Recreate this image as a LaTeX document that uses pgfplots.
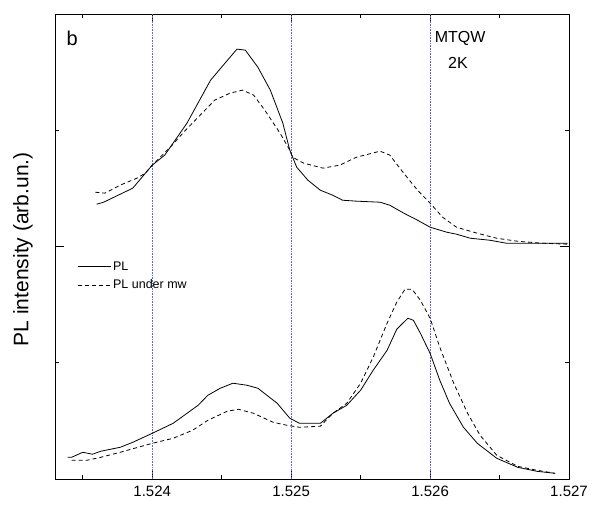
\documentclass[border=0pt]{standalone}
\usepackage{fontspec}
\setmainfont{Liberation Sans}
\usepackage{pgfplots}
\pgfplotsset{compat=1.18}
\usetikzlibrary{calc}
\definecolor{gridblue}{rgb}{0.38,0.38,0.88}

\begin{document}
\begin{tikzpicture}
\begin{axis}[
    scale only axis,
    width=514pt, height=465pt,
    xmin=1.5233, xmax=1.527,
    ymin=0, ymax=4,
    xtick={1.524,1.525,1.526,1.527},
    xticklabels={1.524,1.525,1.526,1.527},
    minor xtick={1.5235,1.5245,1.5255,1.5265},
    ytick={2}, yticklabels={},
    minor ytick={1,3},
    tick align=inside,
    major tick length=9pt, minor tick length=4pt,
    every tick/.style={black, line width=0.8pt},
    axis line style={line width=0.9pt},
    xticklabel style={font=\fontsize{15}{17}\selectfont, yshift=-3pt},
    ylabel={PL intensity (arb.un.)},
    ylabel style={font=\fontsize{21}{23}\selectfont, at={(rel axis cs:0,0.494)}, anchor=south, yshift=22pt, inner sep=0pt},
    legend style={draw=none, fill=none, font=\fontsize{12.5}{14}\selectfont,
        at={(rel axis cs:0.043,0.472)}, anchor=north west, inner sep=0pt,
        row sep=4pt},
    legend cell align=left,
    legend image code/.code={\draw[#1] (0pt,0pt) -- (33pt,0pt);},
    clip=false,
]
% vertical guide lines
\addplot[gridblue, line width=0.6pt, dash pattern=on 0.8pt off 0.8pt, forget plot] coordinates {(1.524,0) (1.524,4)};
\addplot[gridblue, line width=0.6pt, dash pattern=on 0.8pt off 0.8pt, forget plot] coordinates {(1.525,0) (1.525,4)};
\addplot[gridblue, line width=0.6pt, dash pattern=on 0.8pt off 0.8pt, forget plot] coordinates {(1.526,0) (1.526,4)};

% lower spectra
\addplot[black, line width=0.8pt] coordinates {
(1.52339,0.187) (1.52342,0.187) (1.52350,0.230) (1.52357,0.213) (1.52363,0.239)
(1.52377,0.273) (1.52386,0.316) (1.52400,0.393) (1.52415,0.479) (1.52425,0.565)
(1.52433,0.634) (1.52440,0.720) (1.52449,0.781) (1.52458,0.824) (1.52468,0.807)
(1.52476,0.781) (1.52490,0.651) (1.52499,0.523) (1.52506,0.479) (1.52521,0.479)
(1.52530,0.565) (1.52540,0.634) (1.52550,0.764) (1.52559,0.935) (1.52569,1.106)
(1.52576,1.288) (1.52584,1.383) (1.52588,1.365) (1.52593,1.254) (1.52600,1.081)
(1.52607,0.849) (1.52614,0.651) (1.52624,0.445) (1.52634,0.307) (1.52648,0.178)
(1.52663,0.101) (1.52677,0.066) (1.52690,0.049)
};
\addlegendentry{PL}
\addplot[black, line width=0.8pt, dash pattern=on 4pt off 3pt] coordinates {
(1.52342,0.161) (1.52353,0.161) (1.52363,0.187) (1.52377,0.230) (1.52400,0.307)
(1.52415,0.350) (1.52429,0.419) (1.52440,0.505) (1.52454,0.583) (1.52462,0.600)
(1.52473,0.565) (1.52487,0.488) (1.52497,0.462) (1.52506,0.445) (1.52521,0.454)
(1.52530,0.565) (1.52540,0.651) (1.52550,0.824) (1.52559,1.046) (1.52569,1.339)
(1.52576,1.521) (1.52582,1.633) (1.52587,1.633) (1.52593,1.538) (1.52600,1.383)
(1.52607,1.133) (1.52617,0.824) (1.52627,0.565) (1.52636,0.376) (1.52648,0.204)
(1.52663,0.109) (1.52677,0.075) (1.52690,0.049)
};
\addlegendentry{PL under mw}

% upper spectra
\addplot[black, line width=0.8pt, forget plot] coordinates {
(1.52360,2.364) (1.52365,2.381) (1.52386,2.502) (1.52400,2.700) (1.52409,2.786)
(1.52425,3.061) (1.52442,3.431) (1.52453,3.586) (1.52461,3.698) (1.52467,3.689)
(1.52476,3.543) (1.52485,3.345) (1.52494,3.061) (1.52499,2.829) (1.52504,2.682)
(1.52512,2.571) (1.52521,2.484) (1.52530,2.441) (1.52537,2.398) (1.52547,2.390)
(1.52564,2.381) (1.52571,2.355) (1.52581,2.287) (1.52591,2.226) (1.52600,2.166)
(1.52612,2.123) (1.52619,2.106) (1.52629,2.071) (1.52643,2.054) (1.52655,2.028)
(1.52667,2.028) (1.52699,2.028)
};
\addplot[black, line width=0.8pt, dash pattern=on 4pt off 3pt, forget plot] coordinates {
(1.52359,2.467) (1.52366,2.459) (1.52377,2.528) (1.52389,2.588) (1.52395,2.631)
(1.52400,2.700) (1.52413,2.855) (1.52424,3.001) (1.52438,3.173) (1.52445,3.259)
(1.52456,3.319) (1.52465,3.345) (1.52473,3.302) (1.52481,3.173) (1.52492,2.975)
(1.52499,2.829) (1.52501,2.768) (1.52509,2.717) (1.52523,2.674) (1.52535,2.700)
(1.52547,2.768) (1.52564,2.820) (1.52571,2.786) (1.52581,2.631) (1.52591,2.484)
(1.52600,2.373) (1.52609,2.252) (1.52619,2.166) (1.52634,2.114) (1.52648,2.071)
(1.52663,2.045) (1.52681,2.028) (1.52699,2.020)
};

\node[font=\fontsize{20}{22}\selectfont, inner sep=0pt] at (axis cs:1.523424,3.79) {b};
\node[font=\fontsize{16}{18}\selectfont, fill=white, inner sep=2pt] at (axis cs:1.526216,3.79) {MTQW};
\node[font=\fontsize{16}{18}\selectfont, fill=white, inner sep=2pt] at (axis cs:1.526201,3.575) {2K};
\end{axis}
\path ($(current axis.south west)+(-55pt,-29.5pt)$) rectangle ($(current axis.north east)+(23pt,14pt)$);
\end{tikzpicture}
\end{document}
